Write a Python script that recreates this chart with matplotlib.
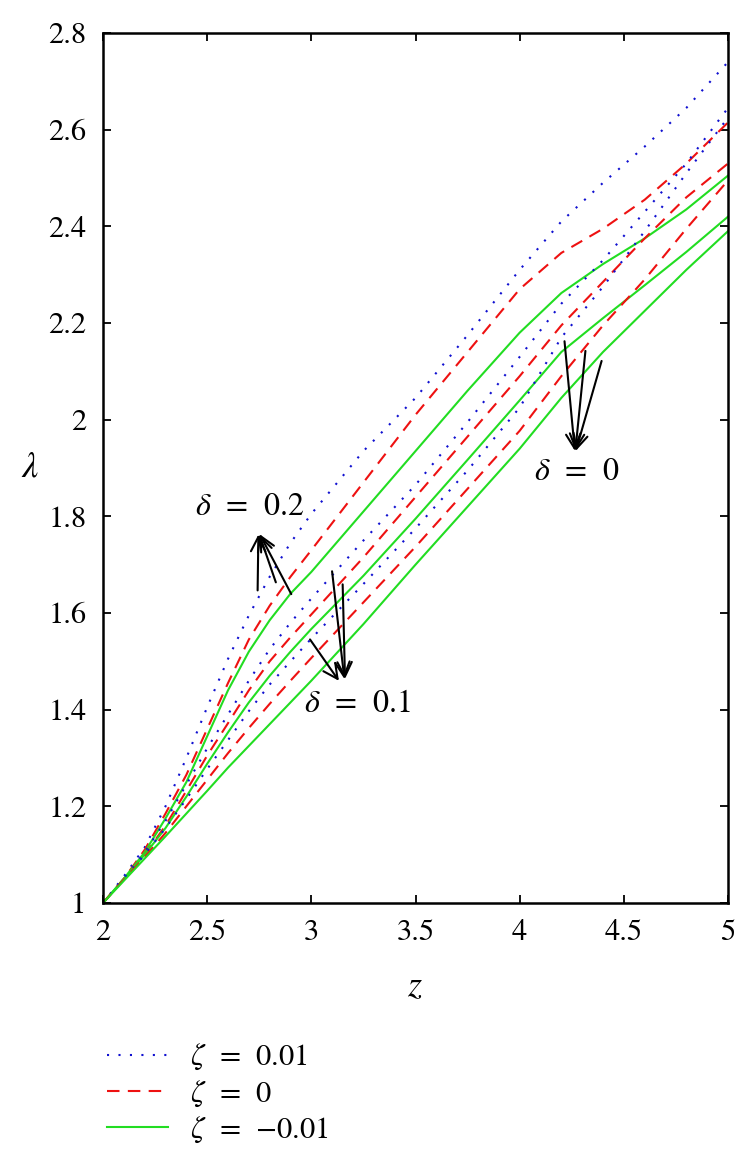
import numpy as np
import matplotlib.pyplot as plt

plt.rcParams['font.family'] = ['STIXGeneral', 'Liberation Serif', 'DejaVu Serif']
plt.rcParams['mathtext.fontset'] = 'stix'

# z values where the curves were read
z = [2.0, 2.1, 2.2, 2.3, 2.4, 2.5, 2.6, 2.7, 2.8, 2.9, 3.0,
     3.25, 3.5, 3.75, 4.0, 4.2, 4.4, 4.6, 4.8, 5.0]

# delta = 0.2
lam_d02_zp = [1.0, 1.055, 1.115, 1.20, 1.30, 1.405, 1.505, 1.595, 1.675, 1.745, 1.805,
              1.935, 2.045, 2.175, 2.31, 2.41, 2.49, 2.565, 2.645, 2.74]
lam_d02_z0 = [1.0, 1.05, 1.11, 1.185, 1.265, 1.36, 1.455, 1.545, 1.615, 1.675, 1.73,
              1.87, 2.01, 2.14, 2.27, 2.345, 2.395, 2.455, 2.53, 2.615]
lam_d02_zm = [1.0, 1.05, 1.105, 1.175, 1.25, 1.345, 1.44, 1.52, 1.585, 1.64, 1.685,
              1.81, 1.935, 2.06, 2.18, 2.262, 2.322, 2.375, 2.435, 2.505]
# delta = 0.1
lam_d01_zp = [1.0, 1.05, 1.105, 1.17, 1.245, 1.32, 1.39, 1.46, 1.525, 1.58, 1.63,
              1.75, 1.865, 1.995, 2.13, 2.24, 2.33, 2.43, 2.53, 2.645]
lam_d01_z0 = [1.0, 1.05, 1.10, 1.16, 1.232, 1.305, 1.372, 1.44, 1.50, 1.55, 1.597,
              1.715, 1.84, 1.965, 2.09, 2.195, 2.285, 2.375, 2.46, 2.53]
lam_d01_zm = [1.0, 1.05, 1.10, 1.155, 1.22, 1.288, 1.353, 1.415, 1.47, 1.52, 1.567,
              1.677, 1.795, 1.917, 2.04, 2.14, 2.21, 2.278, 2.347, 2.42]
# delta = 0
lam_d00_zp = [1.0, 1.05, 1.10, 1.155, 1.215, 1.277, 1.337, 1.397, 1.452, 1.50, 1.547,
              1.66, 1.775, 1.895, 2.025, 2.17, 2.275, 2.39, 2.51, 2.625]
lam_d00_z0 = [1.0, 1.048, 1.095, 1.145, 1.20, 1.255, 1.31, 1.362, 1.412, 1.46, 1.507,
              1.622, 1.737, 1.857, 1.977, 2.09, 2.195, 2.29, 2.395, 2.495]
lam_d00_zm = [1.0, 1.046, 1.092, 1.138, 1.185, 1.232, 1.28, 1.325, 1.37, 1.415, 1.46,
              1.577, 1.70, 1.82, 1.94, 2.045, 2.14, 2.225, 2.31, 2.39]

zeta_labels = [r'$\zeta$  =  0.01', r'$\zeta$  =  0', '$\\zeta$  =  \u22120.01']

blue = '#1010d0'
red = '#ee1111'
green = '#22dd22'
dotted = (0, (1, 4.5))
dashed = (0, (6, 4))

fig = plt.figure(figsize=(7.55, 11.73), dpi=100)
ax = fig.add_axes([103/755, 1-903/1173, 625/755, 870/1173])

lw = 1.5
l1, = ax.plot(z, lam_d02_zp, color=blue, ls=dotted, lw=lw)
l2, = ax.plot(z, lam_d02_z0, color=red, ls=dashed, lw=lw)
l3, = ax.plot(z, lam_d02_zm, color=green, ls='-', lw=lw)
ax.plot(z, lam_d01_zp, color=blue, ls=dotted, lw=lw)
ax.plot(z, lam_d01_z0, color=red, ls=dashed, lw=lw)
ax.plot(z, lam_d01_zm, color=green, ls='-', lw=lw)
ax.plot(z, lam_d00_zp, color=blue, ls=dotted, lw=lw)
ax.plot(z, lam_d00_z0, color=red, ls=dashed, lw=lw)
ax.plot(z, lam_d00_zm, color=green, ls='-', lw=lw)

ax.set_xlim(2, 5)
ax.set_ylim(1, 2.8)
ax.set_xticks([2, 2.5, 3, 3.5, 4, 4.5, 5])
ax.set_xticklabels(['2', '2.5', '3', '3.5', '4', '4.5', '5'])
ax.set_yticks([1, 1.2, 1.4, 1.6, 1.8, 2, 2.2, 2.4, 2.6, 2.8])
ax.set_yticklabels(['1', '1.2', '1.4', '1.6', '1.8', '2', '2.2', '2.4', '2.6', '2.8'])
ax.tick_params(direction='in', length=6, width=1.3, labelsize=22,
               top=True, right=True, pad=12)
for s in ax.spines.values():
    s.set_linewidth(1.8)

fig.text(415/755, 1-988/1173, r'$z$', fontsize=26, ha='center', va='center')
fig.text(30/755, 1-468/1173, r'$\lambda$', fontsize=26, ha='center', va='center')

arr = dict(arrowstyle='->', color='black', lw=1.5, mutation_scale=26)
# delta = 0.2
ax.text(2.706, 1.819, r'$\delta$  =  0.2', fontsize=23, ha='center', va='center')
for tail in [(2.742, 1.641), (2.834, 1.658), (2.91, 1.634)]:
    ax.annotate('', xy=(2.746, 1.768), xytext=tail, arrowprops=arr)
# delta = 0.1
ax.text(3.221, 1.412, r'$\delta$  =  0.1', fontsize=23, ha='center', va='center')
for tail, head in [((3.098, 1.692), (3.16, 1.458)), ((3.15, 1.665), (3.162, 1.458)),
                   ((2.986, 1.55), (3.14, 1.455))]:
    ax.annotate('', xy=head, xytext=tail, arrowprops=arr)
# delta = 0
ax.text(4.274, 1.892, r'$\delta$  =  0', fontsize=23, ha='center', va='center')
for tail in [(4.214, 2.168), (4.317, 2.148), (4.397, 2.127)]:
    ax.annotate('', xy=(4.266, 1.93), xytext=tail, arrowprops=arr)

fig.legend([l1, l2, l3], zeta_labels, loc='upper left',
           bbox_to_anchor=(95/755, 1-1030/1173), frameon=False, fontsize=22,
           handlelength=2.0, handletextpad=0.7, labelspacing=0.2,
           borderaxespad=0)

fig.savefig('out.png', dpi=100)
